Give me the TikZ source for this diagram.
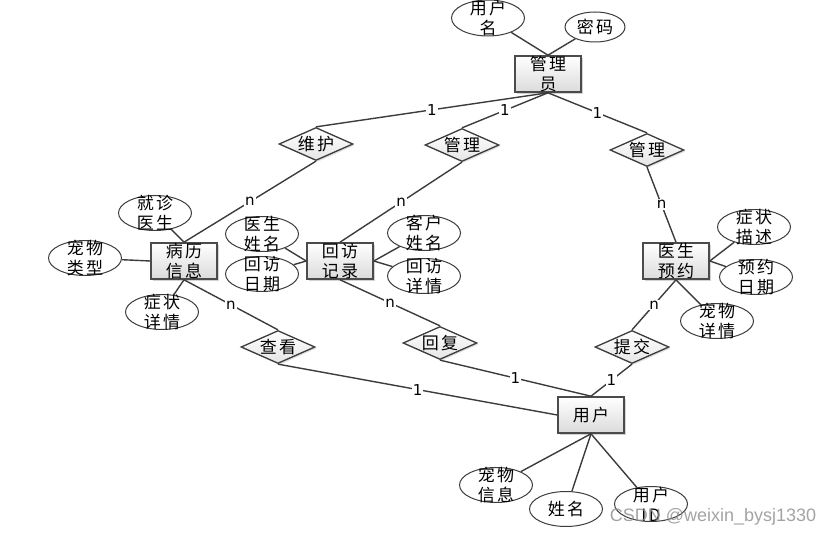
\documentclass[tikz,border=0pt]{standalone}
\usepackage{fontspec}
\usetikzlibrary{shapes.geometric,shadows}
\newfontfamily\cjk[LetterSpace=14]{Noto Sans CJK SC}
\newfontfamily\numfont{DejaVu Sans}
\newfontfamily\wmfont{Liberation Sans}
\definecolor{LineGray}{RGB}{60,60,60}
\definecolor{BoxEdge}{RGB}{75,75,75}

\begin{document}
\begin{tikzpicture}[x=1pt,y=-1pt,
ent/.style={draw=BoxEdge,line width=1.6pt,top color=white,bottom color=black!14,drop shadow={shadow xshift=2pt,shadow yshift=-2pt,opacity=.35},minimum width=66pt,minimum height=36pt,inner sep=0pt,align=center,font=\cjk\fontsize{17}{20}\selectfont},
rel/.style={diamond,draw=LineGray,line width=1.3pt,top color=white,bottom color=black!10,drop shadow={shadow xshift=1.5pt,shadow yshift=-1.5pt,opacity=.25},aspect=2.2,inner sep=0pt,minimum width=74pt,minimum height=33pt,font=\cjk\fontsize{17}{20}\selectfont},
att/.style={ellipse,draw=LineGray,line width=1pt,fill=white,minimum width=73pt,minimum height=35pt,inner xsep=0pt,inner ysep=-10pt,align=center,font=\cjk\fontsize{17}{20}\selectfont},
lnk/.style={draw=LineGray,line width=1.4pt},
card/.style={fill=white,inner sep=1pt,font=\numfont\fontsize{15}{15}\selectfont}
]
\useasboundingbox (0,0) rectangle (838,537);
% entities
\node[ent] (gly) at (548,74) {管理\\员};
\node[ent] (blxx) at (184,261) {病历\\信息};
\node[ent] (hfjl) at (340,261) {回访\\记录};
\node[ent] (ysyy) at (676,261) {医生\\预约};
\node[ent] (yh) at (591,415) {用户};
% relations
\node[rel] (wh) at (316,144) {维护};
\node[rel] (gl1) at (462,145) {管理};
\node[rel] (gl2) at (647,150) {管理};
\node[rel] (ck) at (278,347) {查看};
\node[rel] (hf) at (440,343) {回复};
\node[rel] (tj) at (632,347) {提交};
% attributes
\node[att,minimum height=36pt] (yhm) at (488,18) {用户\\名};
\node[att,minimum width=60pt,minimum height=30pt] (mm) at (595,27) {密码};
\node[att] (jzys) at (155,213) {就诊\\医生};
\node[att] (cwlx) at (85,258) {宠物\\类型};
\node[att] (zzxq) at (162,312) {症状\\详情};
\node[att] (ysxm) at (262,234) {医生\\姓名};
\node[att] (hfrq) at (262,274) {回访\\日期};
\node[att] (khxm) at (424,233) {客户\\姓名};
\node[att] (hfxq) at (424,276) {回访\\详情};
\node[att] (zzms) at (754,227) {症状\\描述};
\node[att] (yyrq) at (756,277) {预约\\日期};
\node[att] (cwxq) at (717,321) {宠物\\详情};
\node[att] (cwxx) at (496,485) {宠物\\信息};
\node[att] (xm) at (566,509) {姓名};
\node[att] (yhid) at (651,504) {用户\\ID};
% attribute links
\draw[lnk] (yhm) -- (gly.north);
\draw[lnk] (mm) -- (gly.north);
\draw[lnk] (jzys) -- (blxx.north);
\draw[lnk] (cwlx) -- (blxx.west);
\draw[lnk] (zzxq) -- (blxx.south);
\draw[lnk] (ysxm) -- (hfjl.west);
\draw[lnk] (hfrq) -- (hfjl.west);
\draw[lnk] (khxm) -- (hfjl.east);
\draw[lnk] (hfxq) -- (hfjl.east);
\draw[lnk] (zzms) -- (ysyy.east);
\draw[lnk] (yyrq) -- (ysyy.east);
\draw[lnk] (cwxq) -- (ysyy.south);
\draw[lnk] (cwxx) -- (yh.south);
\draw[lnk] (xm) -- (yh.south);
\draw[lnk] (yhid) -- (yh.south);
% relation links
\draw[lnk] (gly.south) -- (wh.north) node[card,midway]{1};
\draw[lnk] (gly.south) -- (gl1.north) node[card,midway]{1};
\draw[lnk] (gly.south) -- (gl2.north) node[card,midway]{1};
\draw[lnk] (wh.south) -- (blxx.north) node[card,midway]{n};
\draw[lnk] (gl1.south) -- (hfjl.north) node[card,midway]{n};
\draw[lnk] (gl2.south) -- (ysyy.north) node[card,midway]{n};
\draw[lnk] (blxx.south) -- (ck.north) node[card,midway]{n};
\draw[lnk] (hfjl.south) -- (hf.north) node[card,midway]{n};
\draw[lnk] (ysyy.south) -- (tj.north) node[card,midway]{n};
\draw[lnk] (ck.south) -- (yh.west) node[card,midway]{1};
\draw[lnk] (hf.south) -- (yh.north) node[card,midway]{1};
\draw[lnk] (tj.south) -- (yh.north) node[card,midway]{1};
% watermark
\node[text=black!45,opacity=.8,font=\wmfont\fontsize{18}{18}\selectfont] (wm) at (713,517) {CSDN @weixin\_bysj1330};
\end{tikzpicture}
\end{document}
